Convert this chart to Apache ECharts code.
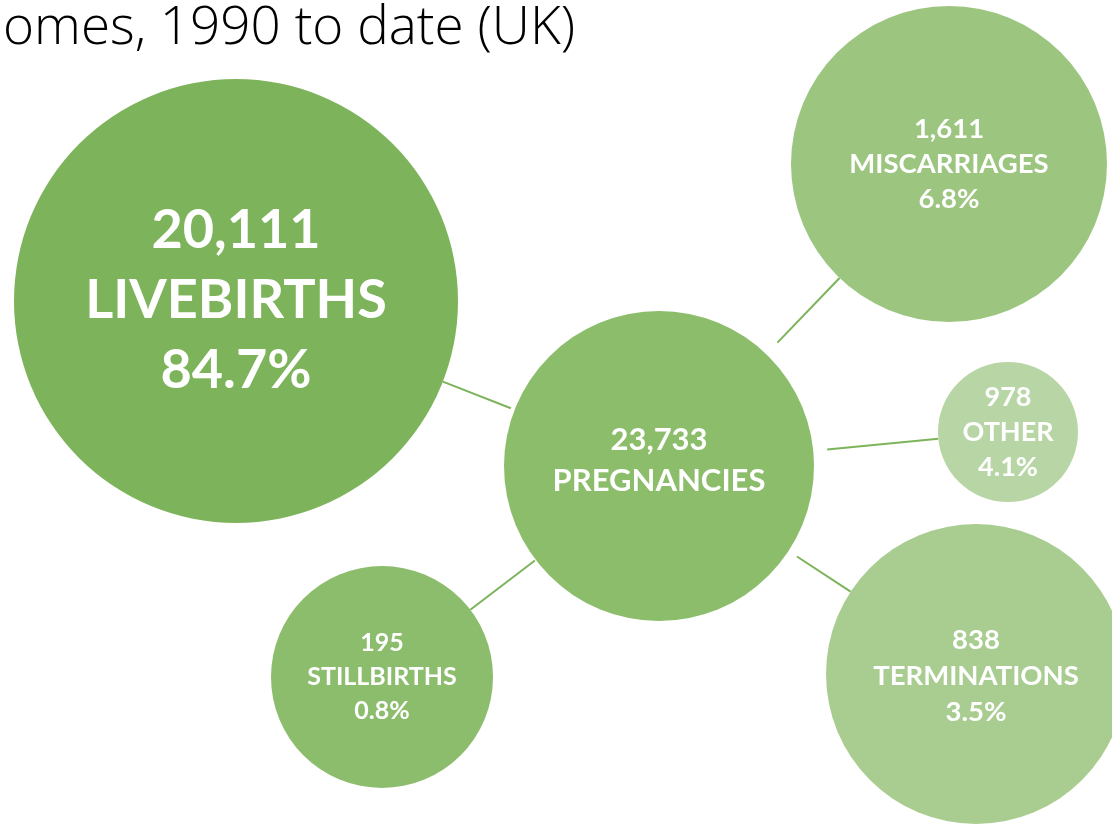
<!DOCTYPE html>
<html>
<head>
<meta charset="utf-8">
<script src="https://cdn.jsdelivr.net/npm/echarts@6/dist/echarts.min.js"></script>
<style>html,body{margin:0;padding:0;background:#fff;}#c{width:1112px;height:824px;}</style>
</head>
<body>
<div id="c"></div>
<script>
// Data
const categories = ['PREGNANCIES', 'LIVEBIRTHS', 'MISCARRIAGES', 'OTHER', 'TERMINATIONS', 'STILLBIRTHS'];
const counts = [23733, 20111, 1611, 978, 838, 195];
const percents = [null, '84.7%', '6.8%', '4.1%', '3.5%', '0.8%'];
const titleText = 'omes, 1990 to date (UK)';

// Layout (pixel positions / diameters / styles), separate from data
const layout = {
  PREGNANCIES:  {pos: [659, 466], d: 310, color: '#8bbd6b', font: 31, lh: 41, dy: -6, gap: 0},
  LIVEBIRTHS:   {pos: [236, 301], d: 444, color: '#7db35a', font: 54, lh: 70, dy: 0, gap: 4},
  MISCARRIAGES: {pos: [949, 164], d: 316, color: '#9cc57f', font: 27.5, lh: 35, dy: 0, gap: 16},
  OTHER:        {pos: [1008, 432], d: 140, color: '#b8d6a5', font: 27, lh: 35, dy: 0, gap: 14},
  TERMINATIONS: {pos: [976, 674], d: 300, color: '#a9cd90', font: 27.5, lh: 36, dy: 2, gap: 10},
  STILLBIRTHS:  {pos: [382, 677], d: 222, color: '#8cbd6c', font: 25, lh: 34, dy: 0, gap: 1}
};

const fmt = n => n.toLocaleString('en-US');

const nodes = categories.map((c, i) => {
  const L = layout[c];
  const lines = [fmt(counts[i]), c];
  if (percents[i]) lines.push(percents[i]);
  return {
    name: c,
    value: L.pos,
    symbolSize: L.d,
    itemStyle: {color: L.color},
    label: {
      show: true,
      position: 'inside',
      offset: [0, L.dy],
      formatter: lines.join('\n'),
      color: '#fff',
      fontFamily: 'Lato',
      fontWeight: 'bold',
      fontSize: L.font,
      lineHeight: L.lh
    }
  };
});

// Connector segments computed from the layout of the hub and each outcome
const hub = layout[categories[0]];
const connectors = categories.slice(1).map(c => {
  const L = layout[c];
  const dx = L.pos[0] - hub.pos[0], dy = L.pos[1] - hub.pos[1];
  const len = Math.sqrt(dx * dx + dy * dy);
  const ux = dx / len, uy = dy / len;
  const r0 = hub.d / 2 + L.gap, r1 = L.d / 2;
  return {coords: [
    [hub.pos[0] + ux * r0, hub.pos[1] + uy * r0],
    [L.pos[0] - ux * r1, L.pos[1] - uy * r1]
  ]};
});

const chart = echarts.init(document.getElementById('c'), null, {renderer: 'canvas'});
chart.setOption({
  animation: false,
  backgroundColor: '#ffffff',
  title: {
    text: titleText,
    left: -2, top: -3,
    textStyle: {fontFamily: 'Open Sans', fontWeight: 300, fontSize: 53, color: '#000'}
  },
  grid: {left: 0, right: 0, top: 0, bottom: 0},
  xAxis: {type: 'value', min: 0, max: 1112, show: false},
  yAxis: {type: 'value', min: 0, max: 824, inverse: true, show: false},
  series: [{
    type: 'lines',
    coordinateSystem: 'cartesian2d',
    data: connectors,
    lineStyle: {color: '#7db35a', width: 2, opacity: 1, curveness: 0},
    silent: true,
    z: 1
  }, {
    type: 'graph',
    coordinateSystem: 'cartesian2d',
    layout: 'none',
    symbol: 'circle',
    data: nodes,
    z: 2,
    emphasis: {disabled: true}
  }]
});
</script>
</body>
</html>
